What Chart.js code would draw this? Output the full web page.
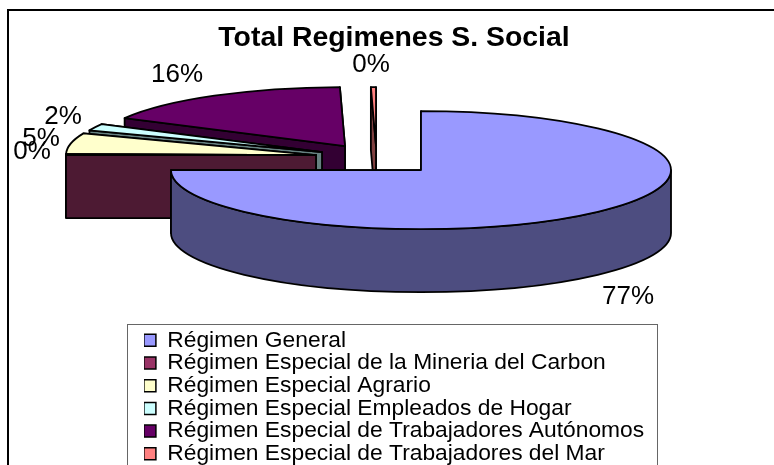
<!DOCTYPE html>
<html>
<head>
<meta charset="utf-8">
<title>Total Regimenes S. Social</title>
<script src="https://cdn.jsdelivr.net/npm/chart.js@4"></script>
<style>
  html, body { margin: 0; padding: 0; background: #fff; overflow: hidden; }
  canvas { display: block; }
</style>
</head>
<body>
<canvas id="pieChart" width="774" height="465"></canvas>
<script>
const chartTitle = "Total Regimenes S. Social";
const regimenes = [
  "Régimen General",
  "Régimen Especial de la Mineria del Carbon",
  "Régimen Especial Agrario",
  "Régimen Especial Empleados de Hogar",
  "Régimen Especial de Trabajadores Autónomos",
  "Régimen Especial de Trabajadores del Mar",
];
// estimated shares, the labels only give whole percents
const shares = [77.0, 0.2, 5.3, 1.7, 15.5, 0.3];
const shareLabels = ["77%", "0%", "5%", "2%", "16%", "0%"];

const topColors = ["#9999ff", "#993366", "#ffffcc", "#ccffff", "#660066", "#ff8080"];
const wallColors = ["#4d4d80", "#4d1a33", "#808066", "#668080", "#330033", "#804040"];

Chart.defaults.font.family = '"Liberation Sans", Arial, sans-serif';
Chart.defaults.color = "#000";

// Chart.js has no 3D pie, so this draws the arcs it laid out as extruded ellipses
const pie3d = {
  id: "pie3d",
  afterLayout(chart, args, opts) {
    chart.titleBlock.left = opts.titleCenter - 200;
    chart.titleBlock.right = opts.titleCenter + 200;
    chart.titleBlock.top = opts.titleTop;
    chart.titleBlock.bottom = opts.titleTop + 34;
    chart.legend.left = opts.legendLeft;
    chart.legend.top = opts.legendTop;
    chart.legend.bottom = opts.legendTop + 150;
  },
  beforeDraw(chart, args, opts) {
    const ctx = chart.ctx;
    ctx.save();
    ctx.strokeStyle = "#000";
    ctx.lineWidth = 2;
    ctx.beginPath();
    ctx.moveTo(8, 470);
    ctx.lineTo(8, 10);
    ctx.lineTo(780, 10);
    ctx.stroke();
    ctx.strokeStyle = "#666";
    ctx.lineWidth = 1;
    ctx.strokeRect(127.5, 324.5, 530, 160);
    ctx.restore();
  },
  beforeDatasetsDraw(chart, args, opts) {
    const ctx = chart.ctx;
    const arcs = chart.getDatasetMeta(0).data;
    const { rx, ry, depth, offsets, labelSpots } = opts;

    // the first slice reads as a clean three quarter cut in the original
    const seam = arcs[0].endAngle;
    const warp = (a) => {
      const start = -Math.PI / 2;
      const end = start + 2 * Math.PI;
      const cut = start + 1.5 * Math.PI;
      if (a <= seam) return start + ((a - start) * (cut - start)) / (seam - start);
      return cut + ((a - seam) * (end - cut)) / (end - seam);
    };

    ctx.save();
    ctx.lineJoin = "round";
    ctx.strokeStyle = "#000";
    ctx.lineWidth = 1.8;

    for (let i = arcs.length - 1; i >= 0; i--) {
      const arc = arcs[i];
      const cx = arc.x + offsets[i].x;
      const cy = arc.y + offsets[i].y;
      const a0 = warp(arc.startAngle);
      const a1 = warp(arc.endAngle);

      ctx.fillStyle = wallColors[i];
      [a1, a0].forEach((a) => {
        ctx.beginPath();
        ctx.moveTo(cx, cy);
        ctx.lineTo(cx + rx * Math.cos(a), cy + ry * Math.sin(a));
        ctx.lineTo(cx + rx * Math.cos(a), cy + ry * Math.sin(a) + depth);
        ctx.lineTo(cx, cy + depth);
        ctx.closePath();
        ctx.fill();
        ctx.stroke();
      });

      // only the near half of the rim faces the viewer
      const from = Math.max(a0, 0);
      const to = Math.min(a1, Math.PI);
      if (to > from) {
        ctx.beginPath();
        ctx.ellipse(cx, cy + depth, rx, ry, 0, from, to);
        ctx.ellipse(cx, cy, rx, ry, 0, to, from, true);
        ctx.closePath();
        ctx.fill();
        ctx.stroke();
      }

      ctx.fillStyle = topColors[i];
      ctx.beginPath();
      ctx.moveTo(cx, cy);
      ctx.ellipse(cx, cy, rx, ry, 0, a0, a1);
      ctx.closePath();
      ctx.fill();
      ctx.stroke();
    }

    ctx.fillStyle = "#000";
    ctx.font = '26px "Liberation Sans", Arial, sans-serif';
    ctx.textAlign = "center";
    ctx.textBaseline = "middle";
    shareLabels.forEach((text, i) => {
      ctx.fillText(text, labelSpots[i].x, labelSpots[i].y);
    });
    ctx.restore();
    return false;
  },
};

new Chart(document.getElementById("pieChart"), {
  type: "pie",
  data: {
    labels: regimenes,
    datasets: [
      {
        data: shares,
        backgroundColor: topColors,
        borderColor: "#000",
        borderWidth: 1.5,
      },
    ],
  },
  plugins: [pie3d],
  options: {
    responsive: false,
    animation: false,
    layout: { padding: { left: 68, top: 0, right: 0, bottom: 159 } },
    plugins: {
      tooltip: { enabled: false },
      title: {
        display: true,
        text: chartTitle,
        padding: 0,
        font: { size: 28.4, weight: "bold" },
      },
      legend: {
        position: "chartArea",
        align: "start",
        labels: {
          boxWidth: 12,
          boxHeight: 12,
          padding: -0.1,
          font: { size: 22.8 },
        },
      },
      pie3d: {
        rx: 250,
        ry: 59,
        depth: 63,
        titleCenter: 394,
        titleTop: 21,
        legendLeft: 144,
        legendTop: 329,
        offsets: [
          { x: 0, y: 0 },
          { x: -105, y: -15 },
          { x: -105, y: -15 },
          { x: -99, y: -18 },
          { x: -76, y: -24 },
          { x: -45, y: -24 },
        ],
        labelSpots: [
          { x: 628, y: 297 },
          { x: 32, y: 152 },
          { x: 41, y: 139 },
          { x: 63, y: 117 },
          { x: 177, y: 75 },
          { x: 371, y: 65 },
        ],
      },
    },
  },
});
</script>
</body>
</html>
